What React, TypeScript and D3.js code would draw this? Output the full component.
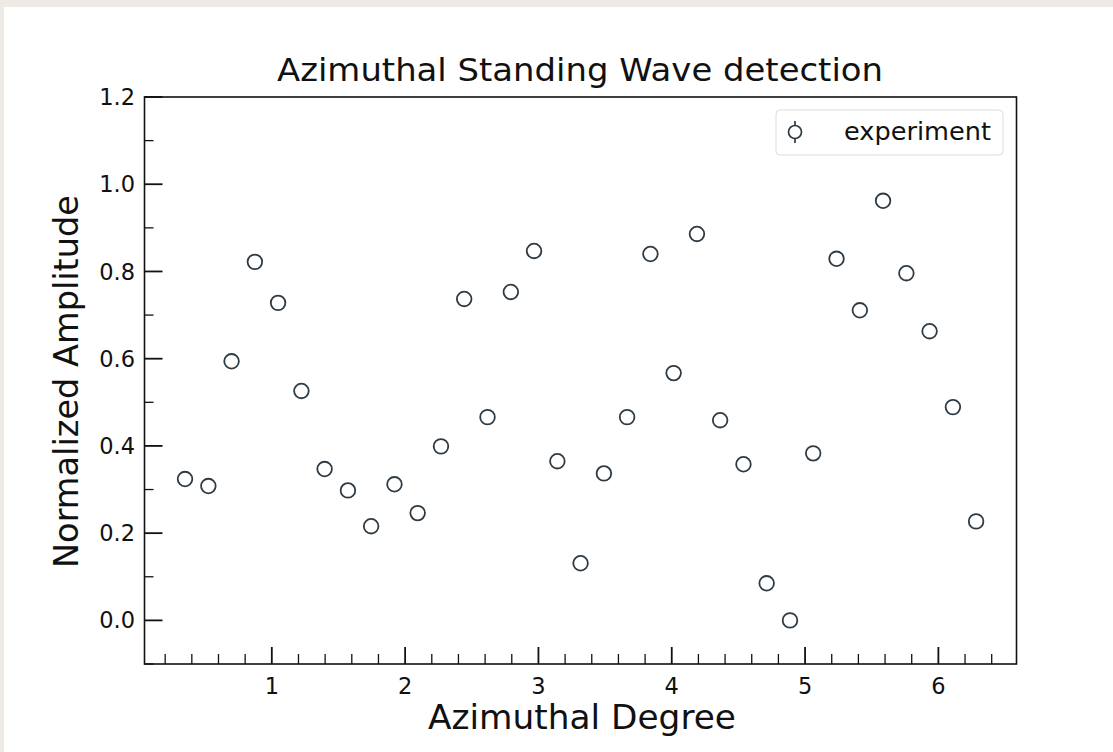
import React from "react";
import * as d3 from "d3";

const azimuth = [
  0.349, 0.524, 0.698, 0.873, 1.047, 1.222, 1.396, 1.571, 1.745, 1.92, 2.094, 2.269,
  2.443, 2.618, 2.793, 2.967, 3.142, 3.316, 3.491, 3.665, 3.84, 4.014, 4.189, 4.363,
  4.538, 4.712, 4.887, 5.061, 5.236, 5.411, 5.585, 5.76, 5.934, 6.109, 6.283,
];
const amplitude = [
  0.324, 0.308, 0.594, 0.822, 0.728, 0.526, 0.347, 0.298, 0.216, 0.312, 0.246, 0.399,
  0.737, 0.466, 0.753, 0.847, 0.365, 0.131, 0.337, 0.466, 0.84, 0.567, 0.886, 0.459,
  0.358, 0.085, 0.0, 0.383, 0.829, 0.711, 0.962, 0.796, 0.663, 0.489, 0.227,
];
const xMajorTicks = [1, 2, 3, 4, 5, 6];
const yMajorTicks = [0.0, 0.2, 0.4, 0.6, 0.8, 1.0, 1.2];
const titleText = "Azimuthal Standing Wave detection";
const xLabelText = "Azimuthal Degree";
const yLabelText = "Normalized Amplitude";
const legendLabel = "experiment";

const W = 1113;
const H = 752;
const left = 144.5;
const right = 1016.5;
const top = 97;
const bottom = 664;
const FONT = "'DejaVu Sans', sans-serif";
const markerColor = "#2e3b44";

export default function App() {
  const x = d3.scaleLinear().domain([0.045, 6.586]).range([left, right]);
  const y = d3.scaleLinear().domain([-0.1, 1.2]).range([bottom, top]);

  const xMinor = d3.range(0.2, 6.5, 0.2).filter((v) => Math.abs(v - Math.round(v)) > 0.01);
  const yMinor = d3.range(-0.1, 1.21, 0.1).filter((v) => Math.abs(v * 5 - Math.round(v * 5)) > 0.01);

  return (
    <svg
      width={W}
      height={H}
      style={{ position: "absolute", left: 0, top: 0, display: "block" }}
      fontFamily={FONT}
    >
      <rect x={0} y={0} width={W} height={H} fill="#eeebe6" />
      <rect x={4} y={7} width={W - 4} height={H - 7} fill="#ffffff" />

      {/* title */}
      <text x={580} y={81} textAnchor="middle" fontSize={32} textLength={606} lengthAdjust="spacingAndGlyphs" fill="#111">
        {titleText}
      </text>

      {/* minor ticks */}
      {xMinor.map((v, i) => (
        <line key={"xm" + i} x1={x(v)} x2={x(v)} y1={bottom} y2={bottom - 10} stroke="#111" strokeWidth={1.3} />
      ))}
      {yMinor.map((v, i) => (
        <line key={"ym" + i} x1={left} x2={left + 9} y1={y(v)} y2={y(v)} stroke="#111" strokeWidth={1.3} />
      ))}
      {/* major ticks */}
      {xMajorTicks.map((v) => (
        <g key={"xM" + v}>
          <line x1={x(v)} x2={x(v)} y1={bottom} y2={bottom - 17} stroke="#111" strokeWidth={1.8} />
          <text x={x(v)} y={694} textAnchor="middle" fontSize={22.5} fill="#111">
            {d3.format("d")(v)}
          </text>
        </g>
      ))}
      {yMajorTicks.map((v) => (
        <g key={"yM" + v}>
          <line x1={left} x2={left + 18} y1={y(v)} y2={y(v)} stroke="#111" strokeWidth={1.8} />
          <text x={135} y={y(v)} dy="0.36em" textAnchor="end" fontSize={22.5} fill="#111">
            {d3.format(".1f")(v)}
          </text>
        </g>
      ))}

      {/* frame */}
      <rect x={left} y={top} width={right - left} height={bottom - top} fill="none" stroke="#111" strokeWidth={1.6} />

      {/* points */}
      {azimuth.map((a, i) => (
        <circle key={"p" + i} cx={x(a)} cy={y(amplitude[i])} r={7.3} fill="none" stroke={markerColor} strokeWidth={1.8} />
      ))}

      {/* legend */}
      <rect x={776} y={110} width={227} height={45} rx={4} fill="#ffffff" stroke="#dcdcdc" strokeWidth={1} />
      <line x1={795} x2={795} y1={121} y2={143} stroke={markerColor} strokeWidth={1.7} />
      <circle cx={795} cy={132} r={6.5} fill="#fff" stroke={markerColor} strokeWidth={1.7} />
      <text x={844} y={140} fontSize={25} textLength={147} lengthAdjust="spacingAndGlyphs" fill="#111">
        {legendLabel}
      </text>

      {/* axis labels */}
      <text x={582} y={729} textAnchor="middle" fontSize={34} textLength={308} lengthAdjust="spacingAndGlyphs" fill="#111">
        {xLabelText}
      </text>
      <text
        transform={`translate(78, ${381.5}) rotate(-90)`}
        textAnchor="middle"
        fontSize={34}
        textLength={373}
        lengthAdjust="spacingAndGlyphs"
        fill="#111"
      >
        {yLabelText}
      </text>
    </svg>
  );
}
